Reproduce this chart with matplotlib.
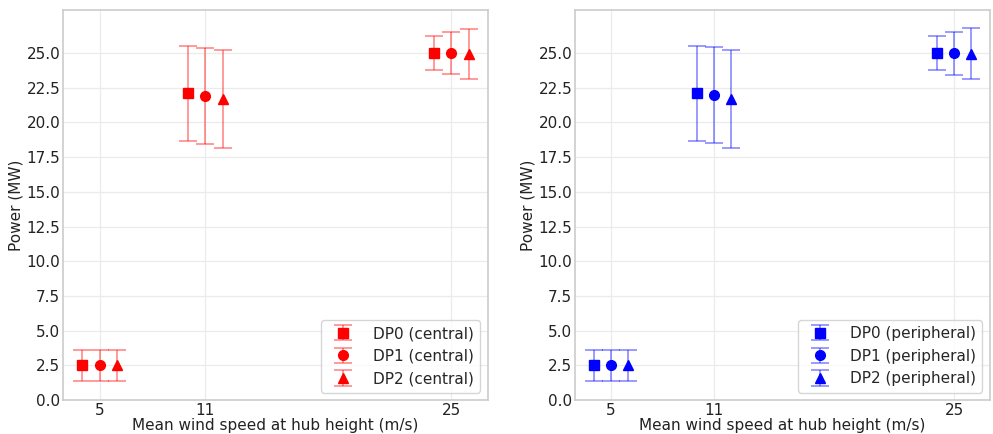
import matplotlib.pyplot as plt

speeds = [5, 11, 25]
offsets = [-1, 0, 1]
labels = ['DP0', 'DP1', 'DP2']
markers = ['s', 'o', '^']

# central layout
central_mean = [[2.5, 22.1, 25.0], [2.5, 21.9, 25.0], [2.5, 21.7, 24.9]]
central_err = [[1.1, 3.4, 1.2], [1.1, 3.45, 1.5], [1.1, 3.55, 1.8]]

# peripheral layout
peripheral_mean = [[2.5, 22.1, 25.0], [2.5, 21.95, 25.0], [2.5, 21.7, 24.95]]
peripheral_err = [[1.1, 3.4, 1.2], [1.1, 3.45, 1.55], [1.1, 3.55, 1.85]]

plt.style.use('seaborn-v0_8-whitegrid')
plt.rcParams['font.family'] = ['DejaVu Sans']
fig = plt.figure(figsize=(9.93, 4.34), dpi=100)
ax1 = fig.add_axes([0.0634, 0.078, 0.428, 0.899])
ax2 = fig.add_axes([0.579, 0.078, 0.418, 0.899])

panels = [(ax1, central_mean, central_err, 'red', 'central'),
          (ax2, peripheral_mean, peripheral_err, 'blue', 'peripheral')]

for ax, means, errs, color, name in panels:
    for i in range(3):
        xs = [s + offsets[i] for s in speeds]
        eb = ax.errorbar(xs, means[i], yerr=errs[i], fmt=markers[i], color=color,
                         markersize=7, capsize=6.5, elinewidth=1.1, capthick=1.1,
                         label=f'{labels[i]} ({name})')
        for part in eb[1] + eb[2]:
            part.set_alpha(0.5)
    ax.set_xticks(speeds)
    ax.set_ylim(0, 28.1)
    ax.set_yticks([0, 2.5, 5, 7.5, 10, 12.5, 15, 17.5, 20, 22.5, 25])
    ax.set_xlabel('Mean wind speed at hub height (m/s)', fontsize=11, labelpad=0, color='#222222')
    ax.set_ylabel('Power (MW)', fontsize=11, color='#222222', labelpad=2)
    ax.tick_params(axis='both', labelsize=11, colors='#222222', pad=2)
    ax.grid(True, color='#ebebeb', linewidth=0.9)
    for sp in ax.spines.values():
        sp.set_visible(True)
        sp.set_color('#cccccc')
        sp.set_linewidth(1.2)
    ax.legend(loc='lower right', fontsize=11, frameon=True, handletextpad=1.0)

fig.savefig('out.png', dpi=100)
